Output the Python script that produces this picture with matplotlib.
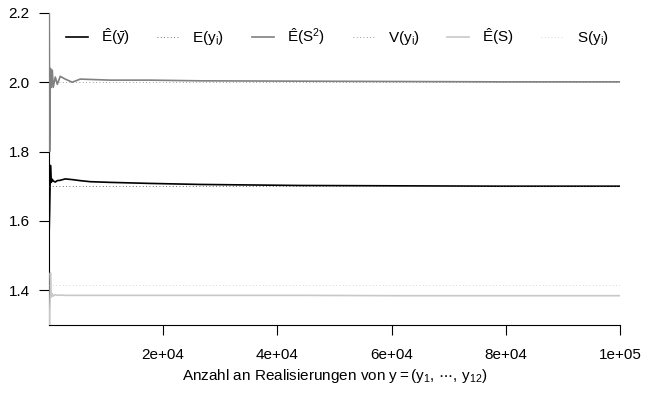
import numpy as np
import matplotlib.pyplot as plt

plt.rcParams['font.family'] = ['Liberation Sans', 'DejaVu Sans']
plt.rcParams['mathtext.fontset'] = 'custom'
plt.rcParams['mathtext.rm'] = 'Liberation Sans'
plt.rcParams['mathtext.it'] = 'Liberation Sans'

# number of realisations
n = [1, 100, 250, 400, 570, 740, 1100, 1450, 1970, 2840, 4070, 5470, 7200,
     10700, 17700, 26500, 44000, 61500, 79000, 100000]
# running estimates
e_ybar = [1.55, 1.62, 1.76, 1.711, 1.72, 1.715, 1.712, 1.716, 1.717, 1.721, 1.719,
          1.716, 1.713, 1.711, 1.708, 1.705, 1.702, 1.701, 1.700, 1.700]
e_s2 = [2.45, 1.80, 2.04, 1.985, 2.035, 1.985, 2.015, 1.994, 2.017, 2.009, 2.000,
        2.009, 2.008, 2.006, 2.006, 2.004, 2.003, 2.002, 2.001, 2.001]
e_s = [1.0, 1.30, 1.45, 1.38, 1.39, 1.383, 1.387, 1.385, 1.386, 1.385, 1.385,
       1.385, 1.385, 1.385, 1.385, 1.385, 1.385, 1.384, 1.384, 1.384]
# true values
true_mean = 1.7
true_var = 2.0
true_sd = np.sqrt(2)

fig = plt.figure(figsize=(6.45, 4.03), dpi=100)
ax = fig.add_axes([0.076, 0.194, 0.885, 0.774])

dots = (0, (1, 3))
ax.plot(n, e_ybar, color='black', lw=1.2, zorder=3, label=r'$\hat{\mathrm{E}}(\bar{\mathrm{y}})$')
ax.axhline(true_mean, color='#444444', lw=0.6, ls=dots, zorder=3, label=r'$\mathrm{E}(\mathrm{y_i})$')
ax.plot(n, e_s2, color='#808080', lw=1.2, zorder=3, label=r'$\hat{\mathrm{E}}(\mathrm{S}^2)$')
ax.axhline(true_var, color='#808080', lw=0.6, ls=dots, zorder=3, label=r'$\mathrm{V}(\mathrm{y_i})$')
ax.plot(n, e_s, color='#c8c8c8', lw=1.2, zorder=3, label=r'$\hat{\mathrm{E}}(\mathrm{S})$')
ax.axhline(true_sd, color='#c8c8c8', lw=0.6, ls=dots, zorder=3, label=r'$\mathrm{S}(\mathrm{y_i})$')

ax.set_xlim(1, 100000)
ax.set_ylim(1.3, 2.2)
ax.set_xticks([20000, 40000, 60000, 80000, 100000])
ax.set_xticklabels(['2e+04', '4e+04', '6e+04', '8e+04', '1e+05'])
ax.set_yticks([1.4, 1.6, 1.8, 2.0, 2.2])
ax.set_yticklabels(['1.4', '1.6', '1.8', '2.0', '2.2'])
ax.tick_params(labelsize=11, length=7, width=0.8, pad=7)
ax.tick_params(axis='x', pad=10)
ax.spines['top'].set_visible(False)
ax.spines['right'].set_visible(False)
ax.set_xlabel(r'Anzahl an Realisierungen von $\mathrm{y} = (\mathrm{y}_1,\, \cdots,\, \mathrm{y}_{12})$',
              fontsize=11, labelpad=3)

ax.legend(loc='center left', bbox_to_anchor=(0.005, 0.923), ncol=6, frameon=False, fontsize=11,
          handlelength=1.45, columnspacing=1.8, handletextpad=0.85)

fig.savefig('out.png', dpi=100)
